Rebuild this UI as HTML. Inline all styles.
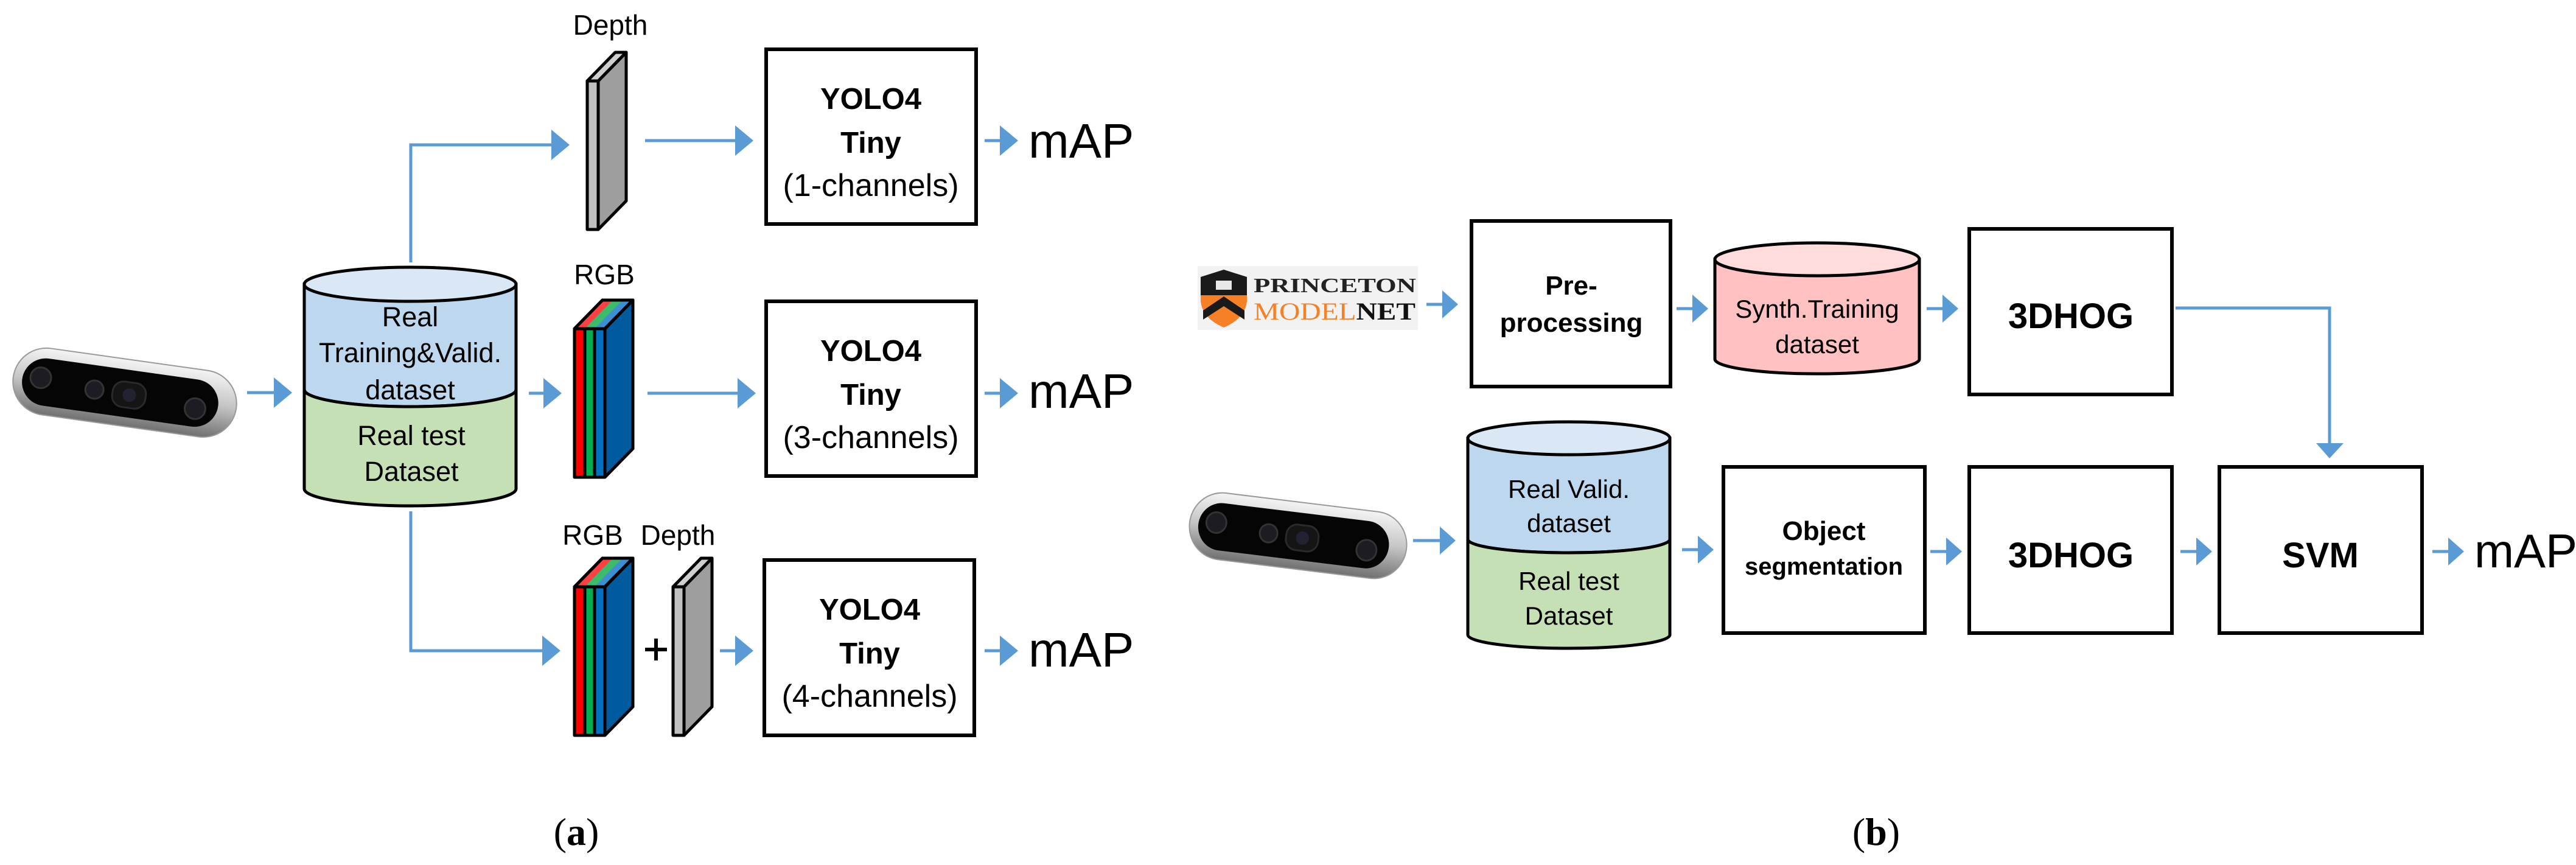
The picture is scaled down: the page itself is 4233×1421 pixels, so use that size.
<!DOCTYPE html>
<html><head><meta charset="utf-8"><style>
html,body{margin:0;padding:0;background:#fff;}
svg{display:block;font-family:"Liberation Sans",sans-serif;}
.serif{font-family:"Liberation Serif",serif;}
</style></head><body>
<svg width="4233" height="1421" viewBox="0 0 4233 1421" xmlns="http://www.w3.org/2000/svg">
<defs>
<linearGradient id="silver" x1="0" y1="0" x2="0" y2="1">
<stop offset="0" stop-color="#f4f4f4"/><stop offset="0.5" stop-color="#c4c4c4"/><stop offset="1" stop-color="#707070"/>
</linearGradient>
<g id="cam">
<rect x="-185" y="-55" width="370" height="110" rx="55" fill="url(#silver)" stroke="#999" stroke-width="2"/>
<rect x="-170" y="-38" width="325" height="78" rx="39" fill="#050505"/>
<circle cx="-140" cy="-5" r="17" fill="#1c1c22" stroke="#333" stroke-width="3"/>
<circle cx="-50" cy="2" r="15" fill="#1c1c22" stroke="#333" stroke-width="3"/>
<rect x="-20" y="-18" width="55" height="42" rx="18" fill="#151515" stroke="#2a2a2a" stroke-width="3"/>
<circle cx="8" cy="3" r="11" fill="#223" />
<circle cx="118" cy="10" r="17" fill="#1c1c22" stroke="#333" stroke-width="3"/>
</g>
</defs>

<!-- ============ (a) ============ -->
<g transform="translate(205,645) rotate(8)"><use href="#cam"/></g>

<g stroke="#5b9bd5" stroke-width="5" fill="none">
<line x1="406" y1="645" x2="452" y2="645"/>
<polyline points="675,431 675,238 908,238"/>
<line x1="1060" y1="231" x2="1210" y2="231"/>
<line x1="869" y1="646" x2="895" y2="646"/>
<line x1="1064" y1="646" x2="1214" y2="646"/>
<polyline points="675,840 675,1069 893,1069"/>
<line x1="1183" y1="1069" x2="1210" y2="1069"/>
<line x1="1618" y1="231" x2="1645" y2="231"/>
<line x1="1618" y1="646" x2="1645" y2="646"/>
<line x1="1618" y1="1069" x2="1645" y2="1069"/>
</g>
<g fill="#5b9bd5">
<polygon points="450,620 480,645 450,670"/>
<polygon points="906,213 936,238 906,263"/>
<polygon points="1208,206 1238,231 1208,256"/>
<polygon points="893,621 923,646 893,671"/>
<polygon points="1212,621 1242,646 1212,671"/>
<polygon points="891,1044 921,1069 891,1094"/>
<polygon points="1208,1044 1238,1069 1208,1094"/>
<polygon points="1643,206 1673,231 1643,256"/>
<polygon points="1643,621 1673,646 1643,671"/>
<polygon points="1643,1044 1673,1069 1643,1094"/>
</g>

<g stroke="#000" stroke-width="5">
<path d="M500,467 L500,640 A174,28 0 0 0 848,640 L848,467 Z" fill="#bdd7ee"/>
<path d="M500,640 A174,28 0 0 0 848,640 L848,803 A174,28 0 0 1 500,803 Z" fill="#c5e0b4"/>
<ellipse cx="674" cy="467" rx="174" ry="28" fill="#dae8f6"/>
</g>
<g font-size="45" text-anchor="middle" fill="#000">
<text x="674" y="536">Real</text>
<text x="674" y="595">Training&amp;Valid.</text>
<text x="674" y="656">dataset</text>
<text x="676" y="731">Real test</text>
<text x="676" y="790">Dataset</text>
</g>

<g stroke="#000" stroke-width="5" stroke-linejoin="round">
<polygon points="983,133 1029,86 1029,330 983,377" fill="#9e9e9e"/>
<polygon points="965,133 1011,86 1029,86 983,133" fill="#cfcfcf"/>
<rect x="965" y="133" width="18" height="244" fill="#c0c0c0"/>
</g>
<g stroke="#000" stroke-width="5" stroke-linejoin="round">
<polygon points="994,540 1040,493 1040,737 994,784" fill="#005a9e"/>
<polygon points="944,540 990,493 1040,493 994,540" fill="#3c8fd0"/>
<polygon points="944,540 990,493 1007,493 961,540" fill="#ff4040" stroke-width="0"/>
<polygon points="961,540 1007,493 1023,493 977,540" fill="#3dbb6a" stroke-width="0"/>
<polygon points="944,540 990,493 1040,493 994,540" fill="none"/>
<rect x="944" y="540" width="17" height="244" fill="#ff0000"/>
<rect x="961" y="540" width="16" height="244" fill="#00b050"/>
<rect x="977" y="540" width="17" height="244" fill="#0070c0"/>
</g>
<g stroke="#000" stroke-width="5" stroke-linejoin="round">
<polygon points="994,964 1040,917 1040,1161 994,1208" fill="#005a9e"/>
<polygon points="944,964 990,917 1040,917 994,964" fill="#3c8fd0"/>
<polygon points="944,964 990,917 1007,917 961,964" fill="#ff4040" stroke-width="0"/>
<polygon points="961,964 1007,917 1023,917 977,964" fill="#3dbb6a" stroke-width="0"/>
<polygon points="944,964 990,917 1040,917 994,964" fill="none"/>
<rect x="944" y="964" width="17" height="244" fill="#ff0000"/>
<rect x="961" y="964" width="16" height="244" fill="#00b050"/>
<rect x="977" y="964" width="17" height="244" fill="#0070c0"/>
</g>
<g stroke="#000" stroke-width="6"><line x1="1060" y1="1067" x2="1096" y2="1067"/><line x1="1078" y1="1049" x2="1078" y2="1085"/></g>
<g stroke="#000" stroke-width="5" stroke-linejoin="round">
<polygon points="1124,964 1170,917 1170,1161 1124,1208" fill="#9e9e9e"/>
<polygon points="1106,964 1152,917 1170,917 1124,964" fill="#cfcfcf"/>
<rect x="1106" y="964" width="18" height="244" fill="#c0c0c0"/>
</g>

<g font-size="46" fill="#000" text-anchor="middle">
<text x="1003" y="57">Depth</text>
<text x="993" y="467">RGB</text>
<text x="974" y="895">RGB</text>
<text x="1114" y="895">Depth</text>
</g>

<g fill="#fff" stroke="#000" stroke-width="6">
<rect x="1259" y="81" width="345" height="287"/>
<rect x="1259" y="495" width="345" height="287"/>
<rect x="1256" y="920" width="345" height="288"/>
</g>
<g font-size="49" text-anchor="middle" fill="#000">
<text x="1431" y="179" font-weight="bold">YOLO4</text>
<text x="1431" y="251" font-weight="bold">Tiny</text>
<text x="1431" y="322" font-size="52">(1-channels)</text>
<text x="1431" y="593" font-weight="bold">YOLO4</text>
<text x="1431" y="665" font-weight="bold">Tiny</text>
<text x="1431" y="736" font-size="52">(3-channels)</text>
<text x="1429" y="1018" font-weight="bold">YOLO4</text>
<text x="1429" y="1090" font-weight="bold">Tiny</text>
<text x="1429" y="1161" font-size="52">(4-channels)</text>
</g>
<g font-size="80" fill="#000">
<text x="1690" y="259">mAP</text>
<text x="1690" y="670">mAP</text>
<text x="1690" y="1095">mAP</text>
</g>
<text class="serif" x="947" y="1388" font-size="64" text-anchor="middle"><tspan>(</tspan><tspan font-weight="bold">a</tspan><tspan>)</tspan></text>

<!-- ============ (b) ============ -->
<rect x="1968" y="437" width="362" height="105" fill="#f2f2f2"/>
<path d="M1973,455 L2011,443 L2049,455 L2049,495 Q2046,523 2011,538 Q1976,523 1973,495 Z" fill="#f58025"/>
<path d="M1973,455 L2011,443 L2049,455 L2049,485 L1973,485 Z" fill="#1a1a1a"/>
<path d="M1977,510 L2011,487 L2045,510 L2045,525 L2011,503 L1977,525 Z" fill="#1a1a1a"/>
<rect x="1998" y="461" width="26" height="15" fill="#e8e8e8"/>
<text class="serif" x="2060" y="480" font-weight="bold" font-size="34" fill="#222" textLength="267" lengthAdjust="spacingAndGlyphs">PRINCETON</text>
<text class="serif" x="2060" y="525" font-size="40" textLength="266" lengthAdjust="spacingAndGlyphs"><tspan fill="#f58025">MODEL</tspan><tspan fill="#111" font-weight="bold">NET</tspan></text>

<g transform="translate(2133,880) rotate(7) scale(0.97,1.0)"><use href="#cam"/></g>

<g stroke="#5b9bd5" stroke-width="5" fill="none">
<line x1="2344" y1="500" x2="2372" y2="500"/>
<line x1="2755" y1="507" x2="2783" y2="507"/>
<line x1="3166" y1="507" x2="3194" y2="507"/>
<polyline points="3575,506 3828,506 3828,730"/>
<line x1="2322" y1="888" x2="2368" y2="888"/>
<line x1="2764" y1="903" x2="2792" y2="903"/>
<line x1="3172" y1="906" x2="3200" y2="906"/>
<line x1="3583" y1="906" x2="3611" y2="906"/>
<line x1="3997" y1="906" x2="4025" y2="906"/>
</g>
<g fill="#5b9bd5">
<polygon points="2370,477 2396,500 2370,523"/>
<polygon points="2781,484 2807,507 2781,530"/>
<polygon points="3192,484 3218,507 3192,530"/>
<polygon points="3806,728 3851,728 3828,753"/>
<polygon points="2366,865 2392,888 2366,911"/>
<polygon points="2790,880 2816,903 2790,926"/>
<polygon points="3198,883 3224,906 3198,929"/>
<polygon points="3609,883 3635,906 3609,929"/>
<polygon points="4023,883 4049,906 4023,929"/>
</g>

<g fill="#fff" stroke="#000" stroke-width="6">
<rect x="2418" y="363" width="327" height="272"/>
<rect x="3236" y="376" width="333" height="272"/>
<rect x="2832" y="767" width="331" height="273"/>
<rect x="3236" y="767" width="333" height="273"/>
<rect x="3647" y="767" width="333" height="273"/>
</g>

<g stroke="#000" stroke-width="5">
<path d="M2818,426 L2818,590 A168,24 0 0 0 3154,590 L3154,426 Z" fill="#ffc1c1"/>
<ellipse cx="2986" cy="426" rx="168" ry="27" fill="#ffdcdc"/>
</g>
<g stroke="#000" stroke-width="5">
<path d="M2412,720 L2412,886 A166,22 0 0 0 2744,886 L2744,720 Z" fill="#bdd7ee"/>
<path d="M2412,886 A166,22 0 0 0 2744,886 L2744,1043 A166,22 0 0 1 2412,1043 Z" fill="#c5e0b4"/>
<ellipse cx="2578" cy="720" rx="166" ry="27" fill="#dae8f6"/>
</g>

<g font-size="42" text-anchor="middle" fill="#000">
<text x="2986" y="522">Synth.Training</text>
<text x="2986" y="580">dataset</text>
<text x="2578" y="818">Real Valid.</text>
<text x="2578" y="874">dataset</text>
<text x="2578" y="969">Real test</text>
<text x="2578" y="1026">Dataset</text>
</g>
<g font-size="44" font-weight="bold" text-anchor="middle" fill="#000">
<text x="2582" y="484">Pre-</text>
<text x="2582" y="545">processing</text>
<text x="2997" y="887">Object</text>
<text x="2997" y="944" font-size="40">segmentation</text>
</g>
<g font-size="58" font-weight="bold" text-anchor="middle" fill="#000">
<text x="3403" y="539">3DHOG</text>
<text x="3403" y="932">3DHOG</text>
<text x="3813" y="932">SVM</text>
</g>
<text x="4066" y="932" font-size="78" fill="#000">mAP</text>
<text class="serif" x="3083" y="1388" font-size="64" text-anchor="middle"><tspan>(</tspan><tspan font-weight="bold">b</tspan><tspan>)</tspan></text>
</svg>
</body></html>
